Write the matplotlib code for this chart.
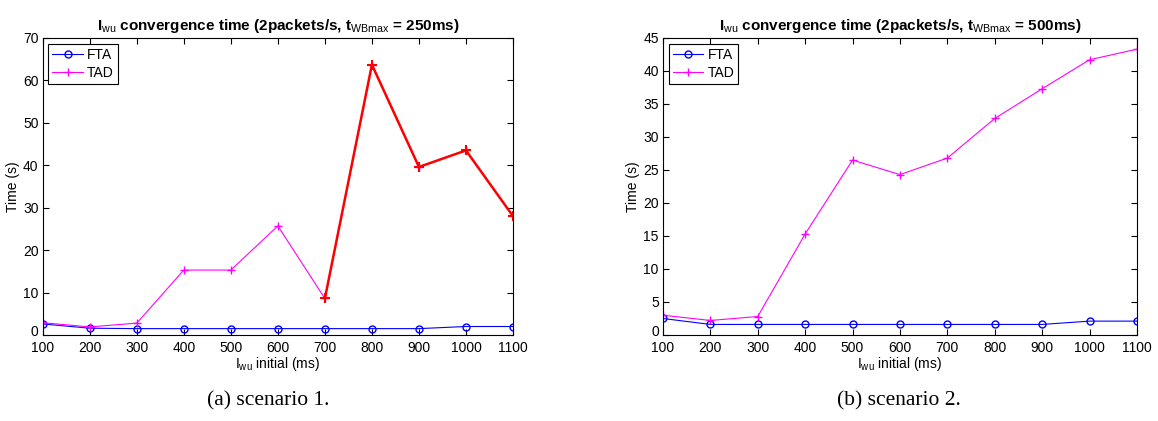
import matplotlib
matplotlib.use('Agg')
import matplotlib.pyplot as plt
import matplotlib.transforms as mtransforms

plt.rcParams['font.family'] = ['Liberation Sans', 'DejaVu Sans']
plt.rcParams['mathtext.fontset'] = 'custom'
plt.rcParams['mathtext.rm'] = 'Liberation Sans'

iwu = [100, 200, 300, 400, 500, 600, 700, 800, 900, 1000, 1100]

# scenario 1: t_WBmax = 250ms
fta_1 = [2.6, 1.6, 1.5, 1.5, 1.5, 1.5, 1.5, 1.5, 1.5, 2.0, 2.0]
tad_1 = [2.9, 1.9, 2.8, 15.3, 15.3, 25.7, 8.6, 63.7, 39.6, 43.5, 28.0]
hl_start = 6  # TAD points from 700 ms on are drawn in red

# scenario 2: t_WBmax = 500ms
fta_2 = [2.5, 1.6, 1.6, 1.6, 1.6, 1.6, 1.6, 1.6, 1.6, 2.1, 2.1]
tad_2 = [3.0, 2.2, 2.8, 15.3, 26.5, 24.3, 26.8, 32.8, 37.3, 41.7, 43.3]

fig = plt.figure(figsize=(11.58, 4.21), dpi=100)
ax1 = fig.add_axes([0.0369, 0.2043, 0.4061, 0.7055])
ax2 = fig.add_axes([0.5725, 0.2043, 0.4093, 0.7055])


def draw(ax, fta, tad, ymax, yticks, twb):
    ax.plot(iwu, fta, color='#0000ff', marker='o', markersize=5,
            markerfacecolor='none', linewidth=0.8, label='FTA')
    ax.plot(iwu, tad, color='#ff00ff', marker='+', markersize=6,
            linewidth=0.8, label='TAD')
    ax.set_xlim(100, 1100)
    ax.set_ylim(0, ymax)
    ax.set_xticks(iwu)
    ax.set_yticks(yticks)
    ax.tick_params(direction='in', top=True, right=True, labelsize=10,
                   length=4)
    ax.tick_params(axis='x', pad=4)
    ax.tick_params(axis='y', pad=3)
    # lift the "0" a little so it clears the "100" below it
    lift = mtransforms.ScaledTranslation(0, 3 / 72, fig.dpi_scale_trans)
    zero = ax.get_yticklabels()[0]
    zero.set_transform(zero.get_transform() + lift)
    ax.set_xlabel(r'I$_{\rm wu}$ initial (ms)', fontsize=10, labelpad=0)
    ax.set_ylabel('Time (s)', fontsize=10, labelpad=2)
    ax.set_title(r'I$_{\rm wu}$ convergence time (2packets/s, t$_{\rm WBmax}$ = %s)' % twb,
                 fontsize=11, fontweight='bold', pad=6)
    leg = ax.legend(loc='upper left', fontsize=10, fancybox=False,
                    framealpha=1, edgecolor='black', borderaxespad=0.4,
                    handlelength=2.2, handletextpad=0.3, borderpad=0.3,
                    labelspacing=0.3)
    leg.get_frame().set_linewidth(0.8)


draw(ax1, fta_1, tad_1, 70, range(0, 71, 10), '250ms')
ax1.plot(iwu[hl_start:], tad_1[hl_start:], color='#ff0000', marker='+',
         markersize=7, markeredgewidth=1.5, linewidth=1.8)

draw(ax2, fta_2, tad_2, 45, range(0, 46, 5), '500ms')

fig.text(0.2315, 0.048, '(a) scenario 1.', ha='center', va='center',
         fontsize=15.5, family='Liberation Serif')
fig.text(0.776, 0.048, '(b) scenario 2.', ha='center', va='center',
         fontsize=15.5, family='Liberation Serif')

fig.savefig('out.png', dpi=100)
